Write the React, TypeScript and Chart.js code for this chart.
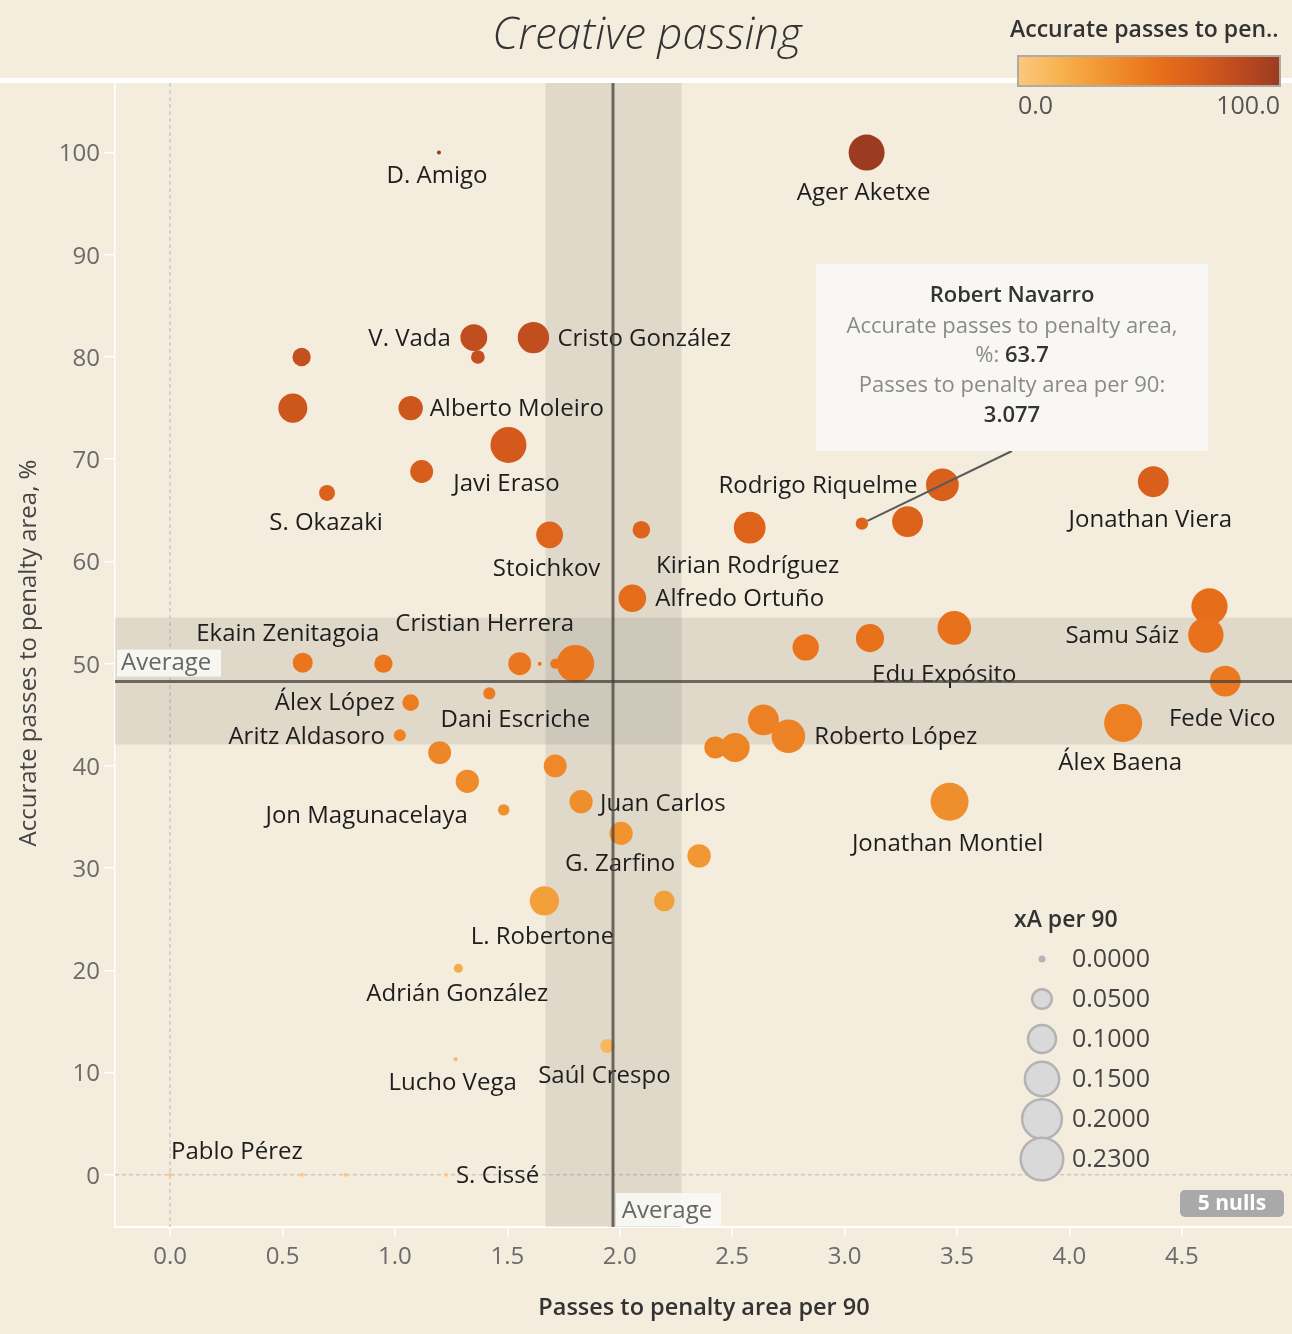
import React, { useEffect, useRef } from 'react';
import { Chart, registerables } from 'chart.js';

Chart.register(...registerables);

// ---------------- DATA ----------------
const players: string[] = [
  'D. Amigo', 'Ager Aketxe', 'V. Vada', '', 'Cristo González', '', '', 'Alberto Moleiro',
  'Javi Eraso', '', 'S. Okazaki', 'Stoichkov', '', 'Alfredo Ortuño', 'Ekain Zenitagoia', '',
  'Cristian Herrera', '', '', '', '', 'Álex López', 'Aritz Aldasoro', '', '', '',
  'Jon Magunacelaya', 'Juan Carlos', 'G. Zarfino', '', 'L. Robertone', '', 'Adrián González',
  'Saúl Crespo', 'Lucho Vega', 'Pablo Pérez', '', '', 'S. Cissé', 'Rodrigo Riquelme',
  'Robert Navarro', '', 'Kirian Rodríguez', 'Jonathan Viera', '', 'Samu Sáiz', 'Fede Vico',
  'Edu Expósito', '', '', '', 'Roberto López', '', '', 'Álex Baena', 'Jonathan Montiel',
];

const passesPer90: number[] = [
  1.196, 3.098, 1.351, 1.369, 1.616, 0.585, 0.546, 1.070,
  1.505, 1.119, 0.698, 1.688, 2.096, 2.056, 0.590, 0.949,
  1.555, 1.644, 1.713, 1.803, 1.420, 1.070, 1.022, 1.199, 1.713, 1.322,
  1.484, 1.828, 2.006, 2.353, 1.665, 2.198, 1.282,
  1.945, 1.270, 0.000, 0.586, 0.782, 1.227, 3.435,
  3.077, 3.280, 2.578, 4.373, 4.623, 4.607, 4.693,
  3.488, 3.113, 2.827, 2.639, 2.750, 2.513, 2.425, 4.239, 3.467,
];

const accuratePct: number[] = [
  100.0, 100.0, 81.9, 80.0, 81.9, 80.0, 75.0, 75.0,
  71.4, 68.8, 66.7, 62.6, 63.1, 56.4, 50.1, 50.0,
  50.0, 50.0, 50.0, 50.0, 47.1, 46.2, 43.0, 41.3, 40.0, 38.5,
  35.7, 36.5, 33.4, 31.2, 26.8, 26.8, 20.2,
  12.6, 11.3, 0.0, 0.0, 0.0, 0.0, 67.5,
  63.7, 63.9, 63.3, 67.8, 55.6, 52.8, 48.3,
  53.5, 52.5, 51.6, 44.5, 42.9, 41.8, 41.8, 44.2, 36.5,
];

const xAPer90: number[] = [
  0.000, 0.156, 0.086, 0.021, 0.118, 0.039, 0.101, 0.071,
  0.156, 0.062, 0.029, 0.086, 0.036, 0.091, 0.047, 0.039,
  0.062, 0.000, 0.010, 0.170, 0.016, 0.032, 0.016, 0.062, 0.062, 0.064,
  0.014, 0.064, 0.064, 0.065, 0.103, 0.050, 0.008,
  0.023, 0.000, 0.000, 0.000, 0.000, 0.000, 0.129,
  0.017, 0.114, 0.121, 0.114, 0.158, 0.151, 0.114,
  0.136, 0.095, 0.083, 0.114, 0.136, 0.102, 0.057, 0.174, 0.174,
];

const xTicks: number[] = [0, 0.5, 1, 1.5, 2, 2.5, 3, 3.5, 4, 4.5];
const yTicks: number[] = [0, 10, 20, 30, 40, 50, 60, 70, 80, 90, 100];
const sizeLegendValues: number[] = [0, 0.05, 0.1, 0.15, 0.2, 0.23];
const colorLegendRange: number[] = [0, 100];
const avgPasses = 1.97;
const passesBand: number[] = [1.67, 2.275];
const avgAccuracy = 48.25;
const accuracyBand: number[] = [42.1, 54.5];
const nullCount = 5;
const tooltipPlayer = 'Robert Navarro';

// ---------------- STYLE / PLACEMENT ----------------
// label offset from its mark, in px: [dx, dy, align]
const labelOffsets: Record<string, [number, number, CanvasTextAlign]> = {
  'D. Amigo': [-2, 24, 'center'],
  'Ager Aketxe': [-3, 41, 'center'],
  'V. Vada': [-23, 2, 'right'],
  'Cristo González': [24, 2, 'left'],
  'Alberto Moleiro': [19, 1, 'left'],
  'Javi Eraso': [-2, 39, 'center'],
  'S. Okazaki': [-1, 30, 'center'],
  'Stoichkov': [-3, 34, 'center'],
  'Kirian Rodríguez': [-2, 38, 'center'],
  'Alfredo Ortuño': [23, 1, 'left'],
  'Rodrigo Riquelme': [-25, 1, 'right'],
  'Jonathan Viera': [-3, 38, 'center'],
  'Samu Sáiz': [-27, 1, 'right'],
  'Edu Expósito': [-10, 47, 'center'],
  'Fede Vico': [-3, 38, 'center'],
  'Álex Baena': [-3, 40, 'center'],
  'Roberto López': [26, 1, 'left'],
  'Jonathan Montiel': [-2, 42, 'center'],
  'Ekain Zenitagoia': [-15, -29, 'center'],
  'Cristian Herrera': [-35, -40, 'center'],
  'Álex López': [-16, 1, 'right'],
  'Dani Escriche': [26, 27, 'center'],
  'Aritz Aldasoro': [-15, 2, 'right'],
  'Jon Magunacelaya': [-36, 6, 'right'],
  'Juan Carlos': [19, 2, 'left'],
  'G. Zarfino': [-1, 31, 'center'],
  'L. Robertone': [-2, 36, 'center'],
  'Adrián González': [-1, 26, 'center'],
  'Lucho Vega': [-3, 24, 'center'],
  'Saúl Crespo': [-3, 30, 'center'],
  'Pablo Pérez': [1, -23, 'left'],
  'S. Cissé': [10, 1, 'left'],
};
// Dani Escriche label belongs to the mark at index 20
const extraLabels: Record<number, string> = { 20: 'Dani Escriche' };

const BG = '#f4ecdc';
const FONT = '"Open Sans", sans-serif';
const colorStops: [number, string][] = [
  [0, '#fdc77f'], [0.15, '#f7b452'], [0.3, '#f29a35'], [0.45, '#ec7f21'],
  [0.55, '#e76e1a'], [0.7, '#d65c1c'], [0.85, '#bb4a1f'], [1, '#9b3b20'],
];

function hexRgb(h: string): number[] {
  const n = parseInt(h.slice(1), 16);
  return [(n >> 16) & 255, (n >> 8) & 255, n & 255];
}
function colorFor(pct: number): string {
  const t = Math.max(0, Math.min(1, (pct - colorLegendRange[0]) / (colorLegendRange[1] - colorLegendRange[0])));
  for (let i = 1; i < colorStops.length; i++) {
    if (t <= colorStops[i][0]) {
      const [t0, c0] = colorStops[i - 1];
      const [t1, c1] = colorStops[i];
      const f = (t - t0) / (t1 - t0);
      const a = hexRgb(c0), b = hexRgb(c1);
      return `rgb(${Math.round(a[0] + (b[0] - a[0]) * f)},${Math.round(a[1] + (b[1] - a[1]) * f)},${Math.round(a[2] + (b[2] - a[2]) * f)})`;
    }
  }
  return colorStops[colorStops.length - 1][1];
}
function radiusFor(xa: number): number {
  return Math.sqrt(4 + 2050 * xa);
}

function txt(ctx: CanvasRenderingContext2D, s: string, x: number, y: number, font: string, color: string, align: CanvasTextAlign = 'left') {
  ctx.font = font;
  ctx.fillStyle = color;
  ctx.textAlign = align;
  ctx.textBaseline = 'middle';
  ctx.fillText(s, x, y);
}

const decorPlugin = {
  id: 'decor',
  beforeDraw(chart: any) {
    const ctx: CanvasRenderingContext2D = chart.ctx;
    ctx.save();
    ctx.fillStyle = BG;
    ctx.fillRect(0, 0, chart.width, chart.height);
    ctx.fillStyle = '#ffffff';
    ctx.fillRect(0, 78, chart.width, 5);
    txt(ctx, 'Creative passing', 647, 36, `italic 300 44px ${FONT}`, '#333333', 'center');
    ctx.restore();
  },
  beforeDatasetsDraw(chart: any) {
    const ctx: CanvasRenderingContext2D = chart.ctx;
    const { left, right, top, bottom } = chart.chartArea;
    const xs = chart.scales.x, ys = chart.scales.y;
    ctx.save();
    ctx.beginPath();
    ctx.rect(left, top, right - left, bottom - top);
    ctx.clip();
    // zero lines
    ctx.strokeStyle = '#cfcac0';
    ctx.lineWidth = 1.5;
    ctx.setLineDash([4, 3]);
    const x0 = xs.getPixelForValue(0), y0 = ys.getPixelForValue(0);
    ctx.beginPath(); ctx.moveTo(x0, top); ctx.lineTo(x0, bottom); ctx.stroke();
    ctx.beginPath(); ctx.moveTo(left, y0); ctx.lineTo(right, y0); ctx.stroke();
    ctx.setLineDash([]);
    // bands
    ctx.fillStyle = 'rgba(80,80,70,0.12)';
    const bx1 = xs.getPixelForValue(passesBand[0]), bx2 = xs.getPixelForValue(passesBand[1]);
    ctx.fillRect(bx1, top, bx2 - bx1, bottom - top);
    const by1 = ys.getPixelForValue(accuracyBand[1]), by2 = ys.getPixelForValue(accuracyBand[0]);
    ctx.fillRect(left, by1, right - left, by2 - by1);
    ctx.restore();
  },
  afterDatasetsDraw(chart: any) {
    const ctx: CanvasRenderingContext2D = chart.ctx;
    const { left, right, top, bottom } = chart.chartArea;
    const xs = chart.scales.x, ys = chart.scales.y;
    ctx.save();
    // labels
    const labelFont = `24px ${FONT}`;
    players.forEach((name, i) => {
      const nm = name || extraLabels[i];
      if (!nm || nm === tooltipPlayer) return;
      const off = labelOffsets[nm];
      if (!off) return;
      const px = xs.getPixelForValue(passesPer90[i]);
      const py = ys.getPixelForValue(accuratePct[i]);
      txt(ctx, nm, px + off[0], py + off[1], labelFont, '#1e1e1e', off[2]);
    });
    // average lines
    ctx.save();
    ctx.beginPath();
    ctx.rect(left, top, right - left, bottom - top);
    ctx.clip();
    ctx.strokeStyle = 'rgba(70,64,58,0.75)';
    ctx.lineWidth = 3;
    const ax = xs.getPixelForValue(avgPasses), ay = ys.getPixelForValue(avgAccuracy);
    ctx.beginPath(); ctx.moveTo(ax, top); ctx.lineTo(ax, bottom); ctx.stroke();
    ctx.beginPath(); ctx.moveTo(left, ay); ctx.lineTo(right, ay); ctx.stroke();
    ctx.restore();
    // average labels
    ctx.fillStyle = 'rgba(250,249,246,0.9)';
    ctx.fillRect(left + 2, ay - 32, 104, 27);
    txt(ctx, 'Average', left + 6, ay - 18, `24px ${FONT}`, '#666666', 'left');
    ctx.fillStyle = 'rgba(250,249,246,0.9)';
    ctx.fillRect(ax + 3, bottom - 34, 105, 33);
    txt(ctx, 'Average', ax + 54, bottom - 16, `24px ${FONT}`, '#666666', 'center');

    // tooltip
    const ti = players.indexOf(tooltipPlayer);
    if (ti >= 0) {
      const tx = xs.getPixelForValue(passesPer90[ti]);
      const ty = ys.getPixelForValue(accuratePct[ti]);
      const bxL = 816, bxT = 264, bw = 392, bh = 187;
      const cx = bxL + bw / 2;
      ctx.strokeStyle = '#5a5a5a';
      ctx.lineWidth = 2;
      const ex = cx, ey = bxT + bh;
      const d = Math.hypot(ex - tx, ey - ty);
      const rr = radiusFor(xAPer90[ti]);
      ctx.beginPath();
      ctx.moveTo(ex, ey);
      ctx.lineTo(tx + (ex - tx) / d * rr, ty + (ey - ty) / d * rr);
      ctx.stroke();
      ctx.fillStyle = '#f8f7f4';
      ctx.fillRect(bxL, bxT, bw, bh);
      const f = `22px ${FONT}`, fb = `600 22px ${FONT}`;
      txt(ctx, tooltipPlayer, cx, 296, fb, '#333333', 'center');
      txt(ctx, 'Accurate passes to penalty area,', cx, 327, f, '#8a8a8a', 'center');
      const v1 = accuratePct[ti].toFixed(1);
      ctx.font = f;
      const w1 = ctx.measureText('%: ').width;
      ctx.font = fb;
      const w2 = ctx.measureText(v1).width;
      const sx = cx - (w1 + w2) / 2;
      txt(ctx, '%: ', sx, 356, f, '#8a8a8a', 'left');
      txt(ctx, v1, sx + w1, 356, fb, '#333333', 'left');
      txt(ctx, 'Passes to penalty area per 90:', cx, 386, f, '#8a8a8a', 'center');
      txt(ctx, passesPer90[ti].toFixed(3), cx, 416, fb, '#333333', 'center');
    }

    // size legend
    txt(ctx, 'xA per 90', 1014, 920, `600 23px ${FONT}`, '#333333', 'left');
    sizeLegendValues.forEach((v, i) => {
      const cy = 959 + i * 40;
      const r = radiusFor(v);
      ctx.beginPath();
      ctx.arc(1042, cy, v === 0 ? 3.5 : r - 0.5, 0, Math.PI * 2);
      ctx.fillStyle = v === 0 ? '#b5b5b5' : '#d9d9d9';
      ctx.fill();
      if (v !== 0) {
        ctx.strokeStyle = '#b3b3b3';
        ctx.lineWidth = 2.5;
        ctx.stroke();
      }
      txt(ctx, v.toFixed(4), 1072, cy + 1, `25px ${FONT}`, '#444444', 'left');
    });

    // nulls pill
    ctx.fillStyle = '#a9a9a9';
    ctx.beginPath();
    (ctx as any).roundRect(1180, 1190, 104, 27, 5);
    ctx.fill();
    txt(ctx, `${nullCount} nulls`, 1232, 1204, `bold 21px ${FONT}`, '#ffffff', 'center');

    // color legend
    txt(ctx, 'Accurate passes to pen..', 1010, 30, `600 23px ${FONT}`, '#333333', 'left');
    const g = ctx.createLinearGradient(1018, 0, 1280, 0);
    colorStops.forEach(([t, c]) => g.addColorStop(t, c));
    ctx.fillStyle = g;
    ctx.fillRect(1018, 56, 262, 30);
    ctx.strokeStyle = '#b0aba2';
    ctx.lineWidth = 2;
    ctx.strokeRect(1018, 56, 262, 30);
    txt(ctx, colorLegendRange[0].toFixed(1), 1018, 107, `25px ${FONT}`, '#555555', 'left');
    txt(ctx, colorLegendRange[1].toFixed(1), 1280, 107, `25px ${FONT}`, '#555555', 'right');

    // axis titles
    txt(ctx, 'Passes to penalty area per 90', 704, 1308, `600 23.5px ${FONT}`, '#333333', 'center');
    ctx.save();
    ctx.translate(29, 653);
    ctx.rotate(-Math.PI / 2);
    txt(ctx, 'Accurate passes to penalty area, %', 0, 0, `24px ${FONT}`, '#444444', 'center');
    ctx.restore();

    ctx.restore();
  },
};

export default function App() {
  const ref = useRef<HTMLCanvasElement | null>(null);
  useEffect(() => {
    document.body.style.margin = '0';
    document.body.style.background = BG;
    if (!ref.current) return;
    const points = passesPer90.map((x, i) => ({ x, y: accuratePct[i] }));
    const chart = new Chart(ref.current, {
      type: 'scatter',
      data: {
        datasets: [{
          data: points,
          pointRadius: (c: any) => radiusFor(xAPer90[c.dataIndex] ?? 0),
          pointHoverRadius: (c: any) => radiusFor(xAPer90[c.dataIndex] ?? 0),
          pointBackgroundColor: (c: any) => colorFor(accuratePct[c.dataIndex] ?? 0),
          pointBorderWidth: 0,
          pointBorderColor: 'rgba(0,0,0,0)',
        }],
      },
      options: {
        responsive: false,
        animation: false,
        events: [],
        layout: { autoPadding: false, padding: { top: 83, left: 0, right: 0, bottom: 0 } },
        plugins: { legend: { display: false }, tooltip: { enabled: false }, title: { display: false } },
        scales: {
          x: {
            type: 'linear',
            min: -0.245,
            max: 4.99,
            afterBuildTicks: (s: any) => { s.ticks = xTicks.map((v) => ({ value: v })); },
            afterFit: (s: any) => {
              s.height = 107; s.paddingLeft = 0; s.paddingRight = 0; s.paddingTop = 0; s.paddingBottom = 0;
            },
            grid: { drawOnChartArea: false, drawTicks: true, tickLength: 10, color: '#ffffff', lineWidth: 1.5 },
            border: { display: true, color: '#ffffff', width: 2 },
            ticks: {
              padding: 6, color: '#6b6b6b', font: { family: FONT, size: 24 },
              maxRotation: 0, autoSkip: false,
              callback: (v: any) => Number(v).toFixed(1),
            },
          },
          y: {
            type: 'linear',
            min: -5.1,
            max: 106.8,
            afterBuildTicks: (s: any) => { s.ticks = yTicks.map((v) => ({ value: v })); },
            afterFit: (s: any) => {
              s.width = 115; s.paddingLeft = 0; s.paddingRight = 0; s.paddingTop = 0; s.paddingBottom = 0;
            },
            grid: { drawOnChartArea: false, drawTicks: true, tickLength: 11, color: '#ffffff', lineWidth: 1.5 },
            border: { display: true, color: '#ffffff', width: 1.5 },
            ticks: {
              padding: 4, color: '#6b6b6b', font: { family: FONT, size: 24 },
              autoSkip: false, labelOffset: 2,
              callback: (v: any) => String(v),
            },
          },
        },
      },
      plugins: [decorPlugin],
    } as any);
    return () => chart.destroy();
  }, []);
  return (
    <div style={{ width: 1292, height: 1334, background: BG }}>
      <canvas ref={ref} width={1292} height={1334} style={{ display: 'block' }} />
    </div>
  );
}
